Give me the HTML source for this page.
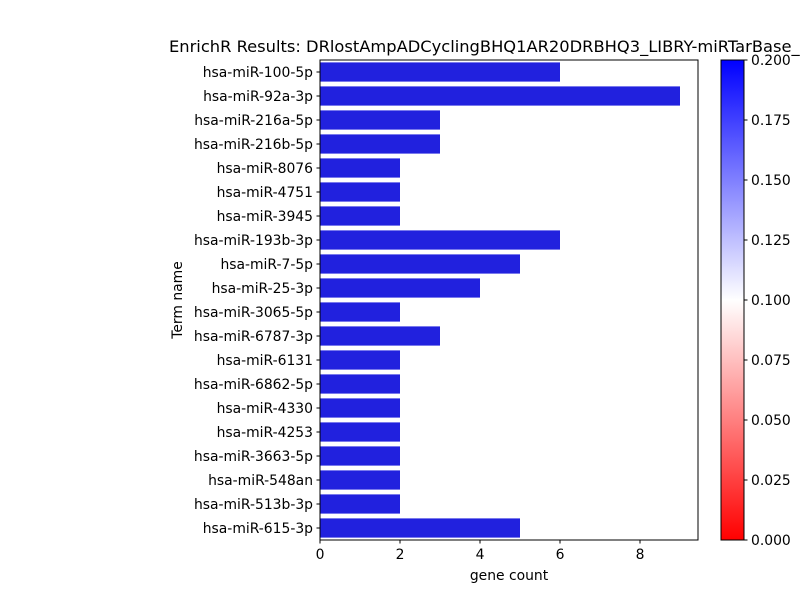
<!DOCTYPE html>
<html><head><meta charset="utf-8"><style>body{margin:0;background:#fff}svg{display:block;font-family:"DejaVu Sans","Liberation Sans",sans-serif}</style></head>
<body>
<svg id="chart" width="800" height="600" xmlns="http://www.w3.org/2000/svg">
<defs><linearGradient id="cb" x1="0" y1="1" x2="0" y2="0"><stop offset="0" stop-color="#ff0000"/><stop offset="0.5" stop-color="#ffffff"/><stop offset="1" stop-color="#0000ff"/></linearGradient></defs>
<text x="169" y="52" font-size="16.3">EnrichR Results: DRlostAmpADCyclingBHQ1AR20DRBHQ3_LIBRY-miRTarBase_2017</text>
<g id="bars"></g>
<rect x="320" y="60" width="378" height="480" fill="none" stroke="#000" stroke-width="1"/>
<g id="yt"></g><g id="xt"></g>
<text transform="translate(182,300) rotate(-90)" text-anchor="middle" font-size="13.9">Term name</text>
<text x="509" y="580" text-anchor="middle" font-size="13.9">gene count</text>
<rect x="721" y="60" width="23" height="480" fill="url(#cb)" stroke="#000" stroke-width="1"/>
<g id="ct"></g>
</svg>
<script>
const terms=["hsa-miR-100-5p","hsa-miR-92a-3p","hsa-miR-216a-5p","hsa-miR-216b-5p","hsa-miR-8076","hsa-miR-4751","hsa-miR-3945","hsa-miR-193b-3p","hsa-miR-7-5p","hsa-miR-25-3p","hsa-miR-3065-5p","hsa-miR-6787-3p","hsa-miR-6131","hsa-miR-6862-5p","hsa-miR-4330","hsa-miR-4253","hsa-miR-3663-5p","hsa-miR-548an","hsa-miR-513b-3p","hsa-miR-615-3p"];
const counts=[6,9,3,3,2,2,2,6,5,4,2,3,2,2,2,2,2,2,2,5];
const xTicks=[0,2,4,6,8];
const cTicks=["0.000","0.025","0.050","0.075","0.100","0.125","0.150","0.175","0.200"];
const NS="http://www.w3.org/2000/svg";
const x0=320,x1=698,xMax=9.45,y0=60,y1=540;
const xs=v=>x0+(v/xMax)*(x1-x0);
const band=(y1-y0)/terms.length;
const bars=document.getElementById('bars'),yt=document.getElementById('yt'),xt=document.getElementById('xt'),ct=document.getElementById('ct');
function mk(t,a,p){const e=document.createElementNS(NS,t);for(const k in a)e.setAttribute(k,a[k]);p.appendChild(e);return e;}
terms.forEach((t,i)=>{
 const yc=y0+band*(i+0.5);
 const r=mk('rect',{x:xs(0),y:yc-band*0.4,width:xs(counts[i])-xs(0),height:band*0.8,fill:'#2121de'},bars);
 
 
 mk('line',{x1:x0-3.5,x2:x0,y1:yc,y2:yc,stroke:'#000'},yt);
 const l=mk('text',{x:x0-7,y:yc+5,'text-anchor':'end','font-size':'13.9'},yt);l.textContent=t;
 
 
});
xTicks.forEach(v=>{
 mk('line',{x1:xs(v),x2:xs(v),y1:y1,y2:y1+3.5,stroke:'#000'},xt);
 const l=mk('text',{x:xs(v),y:y1+19,'text-anchor':'middle','font-size':'13.9'},xt);l.textContent=v;
 
 
});
cTicks.forEach((v,i)=>{
 const y=y1-i*(y1-y0)/(cTicks.length-1);
 mk('line',{x1:744,x2:747.5,y1:y,y2:y,stroke:'#000'},ct);
 const l=mk('text',{x:751,y:y+5,'font-size':'13.9'},ct);l.textContent=v;
 
 
});
</script>
</body></html>
